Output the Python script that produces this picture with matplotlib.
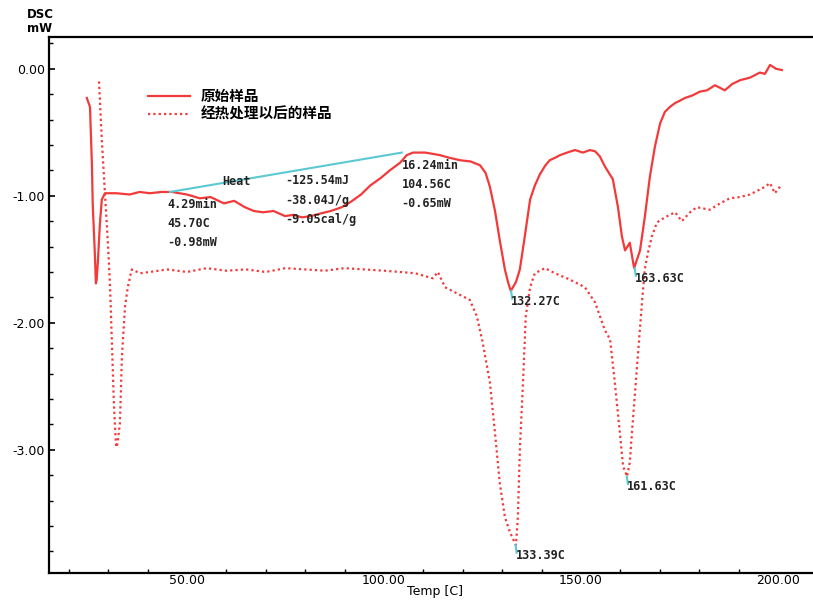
import matplotlib
matplotlib.use("Agg")
import matplotlib.pyplot as plt
from matplotlib.ticker import MultipleLocator, FormatStrFormatter

plt.rcParams['font.family'] = ['DejaVu Sans', 'Noto Sans CJK SC']

# Original sample (solid)
t_orig = [24.6, 25.4, 25.9, 26.1, 26.6, 26.9, 27.1, 27.4, 27.9, 28.4, 29.2, 32.0, 35.5, 38.0,
          40.6, 43.5, 46.2, 50.0, 53.3, 56.0, 59.4, 62.0, 64.7, 67.0, 69.3, 72.0, 74.9, 77.0,
          79.2, 81.5, 83.8, 86.5, 89.3, 91.5, 94.2, 96.5, 99.2, 101.5, 104.1, 105.8, 107.4,
          110.5, 114.2, 116.5, 119.3, 122.0, 124.4, 125.8, 126.9, 128.2, 129.4, 130.7, 131.5,
          132.2, 133.5, 134.5, 135.8, 137.1, 138.3, 139.6, 141.0, 142.1, 143.5, 144.7, 146.5,
          148.5, 150.5, 152.3, 153.6, 154.8, 156.1, 158.1, 159.4, 160.4, 161.2, 162.4, 163.5,
          165.0, 166.2, 167.5, 168.8, 170.1, 171.3, 172.6, 173.9, 175.2, 176.4, 178.3, 180.2,
          182.0, 184.0, 185.3, 186.5, 188.4, 190.4, 192.9, 195.4, 196.7, 198.0, 199.5, 201.0]
y_orig = [-0.23, -0.30, -0.76, -1.07, -1.43, -1.69, -1.66, -1.52, -1.23, -1.03, -0.98, -0.98, -0.99, -0.97,
          -0.98, -0.97, -0.97, -0.99, -1.02, -1.01, -1.06, -1.04, -1.09, -1.12, -1.13, -1.12, -1.16, -1.15,
          -1.17, -1.16, -1.14, -1.12, -1.09, -1.05, -0.99, -0.92, -0.86, -0.80, -0.74, -0.68, -0.66,
          -0.66, -0.68, -0.70, -0.72, -0.73, -0.76, -0.82, -0.93, -1.12, -1.35, -1.58, -1.68,
          -1.75, -1.68, -1.58, -1.31, -1.03, -0.92, -0.83, -0.76, -0.72, -0.70, -0.68, -0.66,
          -0.64, -0.66, -0.64, -0.65, -0.69, -0.77, -0.87, -1.09, -1.32, -1.43, -1.37, -1.57,
          -1.43, -1.17, -0.85, -0.61, -0.43, -0.34, -0.30, -0.27, -0.25, -0.23, -0.21, -0.18,
          -0.17, -0.13, -0.15, -0.17, -0.12, -0.09, -0.07, -0.03, -0.04, 0.03, 0.00, -0.01]

# Heat-treated sample (dotted)
t_heat = [27.7, 28.4, 29.2, 30.0, 30.5, 31.0, 31.5, 32.0, 32.2, 32.5, 33.0, 33.5, 34.3, 35.0,
          36.0, 38.1, 40.6, 45.0, 50.0, 55.0, 60.0, 65.0, 70.0, 75.0, 80.0, 85.0, 90.0, 95.0,
          100.0, 104.1, 107.9, 112.4, 113.7, 115.5, 118.0, 121.8, 123.6, 125.1, 126.9, 128.2,
          129.4, 130.7, 132.0, 133.5, 134.0, 134.5, 135.3, 136.0, 137.1, 138.3, 140.9, 143.4,
          147.2, 151.0, 153.6, 156.1, 157.4, 158.6, 159.9, 160.7, 161.7, 162.4, 163.2, 164.5,
          165.5, 166.2, 167.0, 168.0, 169.3, 171.3, 173.9, 175.6, 177.7, 179.4, 182.7, 185.3,
          187.8, 190.4, 192.9, 196.7, 198.0, 199.2, 201.0]
y_heat = [-0.10, -0.56, -0.98, -1.40, -1.72, -2.19, -2.66, -2.96, -2.98, -2.92, -2.79, -2.27, -1.87, -1.72,
          -1.58, -1.61, -1.60, -1.58, -1.60, -1.57, -1.59, -1.58, -1.60, -1.57, -1.58, -1.59, -1.57, -1.58,
          -1.59, -1.60, -1.61, -1.65, -1.60, -1.72, -1.76, -1.82, -1.95, -2.16, -2.47, -2.87,
          -3.26, -3.53, -3.65, -3.75, -3.53, -3.00, -2.47, -1.95, -1.72, -1.61, -1.57, -1.61,
          -1.66, -1.72, -1.84, -2.06, -2.13, -2.47, -2.87, -3.13, -3.21, -3.10, -2.76, -2.24,
          -1.84, -1.58, -1.45, -1.32, -1.21, -1.17, -1.13, -1.20, -1.13, -1.09, -1.11, -1.06,
          -1.02, -1.01, -0.99, -0.93, -0.90, -0.98, -0.91]

# Baseline (tangent) for integration
base_t = [45.7, 104.56]
base_y = [-0.97, -0.66]

# Peak markers
peak_t = [132.27, 163.63, 133.39, 161.63]
peak_y = [-1.75, -1.57, -3.75, -3.21]
peak_lbl = ["132.27C", "163.63C", "133.39C", "161.63C"]

legend_labels = ["原始样品", "经热处理以后的样品"]

red = "#f23a3a"
cyan = "#5cc8d2"

fig = plt.figure(figsize=(8.13, 6.02), dpi=100)
ax = fig.add_axes([49/813, 1-573/602, 1-49/813, (573-37)/602])
ax.set_xlim(15, 208.9)
ax.set_ylim(-3.97, 0.25)

ax.plot(t_orig, y_orig, color=red, lw=1.6, label=legend_labels[0])
ax.plot(t_heat, y_heat, color=red, lw=1.6, ls=(0, (1, 1.4)), label=legend_labels[1])
ax.plot(base_t, base_y, color=cyan, lw=1.5)
for pt, py in zip(peak_t, peak_y):
    ax.plot([pt, pt + 0.3], [py, py - 0.06], color=cyan, lw=1.5)

mono = dict(family='DejaVu Sans Mono', fontsize=8.5, color='#222222', fontweight='bold')
for pt, py, lb in zip(peak_t, peak_y, peak_lbl):
    ax.text(pt, py - 0.03, lb, ha='left', va='top', **mono)

ax.text(45.0, -1.02, "4.29min\n45.70C\n-0.98mW", ha='left', va='top', linespacing=1.6, **mono)
ax.text(104.5, -0.71, "16.24min\n104.56C\n-0.65mW", ha='left', va='top', linespacing=1.6, **mono)
ax.text(59.0, -0.89, "Heat", ha='left', va='center', **mono)
ax.text(75.0, -0.83, "-125.54mJ\n-38.04J/g\n-9.05cal/g", ha='left', va='top', linespacing=1.65, **mono)

leg = ax.legend(loc='upper left', bbox_to_anchor=(0.122, 0.915), frameon=False,
                handlelength=2.9, handletextpad=0.7, labelspacing=0.1, borderaxespad=0,
                prop={'family': ['Noto Sans CJK SC', 'DejaVu Sans'], 'size': 10.5, 'weight': 'bold'})

for s in ['left', 'bottom', 'top']:
    ax.spines[s].set_linewidth(1.6)
ax.spines['right'].set_visible(False)

ax.xaxis.set_major_locator(MultipleLocator(50))
ax.xaxis.set_minor_locator(MultipleLocator(10))
ax.xaxis.set_major_formatter(FormatStrFormatter('%.2f'))
ax.yaxis.set_major_locator(MultipleLocator(1.0))
ax.yaxis.set_minor_locator(MultipleLocator(0.2))
ax.yaxis.set_major_formatter(FormatStrFormatter('%.2f'))
ax.tick_params(which='both', direction='in', labelsize=9)
ax.tick_params(which='major', length=4, width=1.2)
ax.tick_params(which='minor', length=3, width=1.0)
ax.tick_params(axis='x', which='major', length=0, pad=1)
ax.tick_params(axis='y', which='major', pad=3)
ax.tick_params(top=False, right=False)

fig.text(435/813, 1-592/602, "Temp [C]", ha='center', va='center', fontsize=9)
fig.text(40/813, 1-14/602, "DSC", ha='center', va='center', fontsize=8.5, fontweight='bold')
fig.text(40/813, 1-29/602, "mW", ha='center', va='center', fontsize=8.5, fontweight='bold')

fig.savefig("out.png", dpi=100)
